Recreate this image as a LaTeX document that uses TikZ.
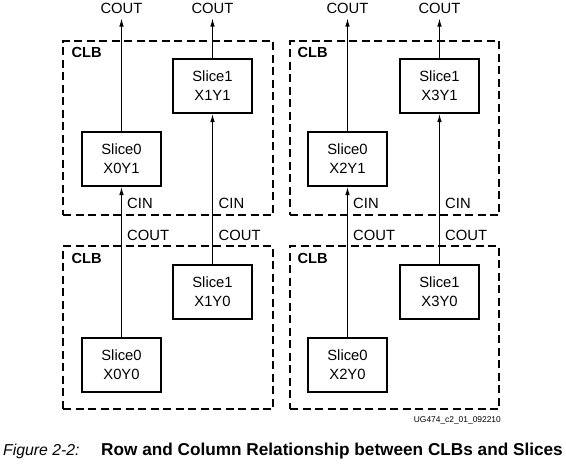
\documentclass[tikz,border=0pt]{standalone}
\usepackage{fontspec}
\setmainfont{Liberation Sans}
\usetikzlibrary{arrows.meta}
\begin{document}
\begin{tikzpicture}[x=1pt,y=-1pt,
  txt/.style={font=\fontsize{14.8}{19}\selectfont,inner sep=0pt},
  slicebox/.style={draw,line width=2pt,minimum width=79pt,minimum height=54pt,
    align=center,inner sep=0pt,font=\fontsize{14.8}{19}\selectfont},
  clbbox/.style={draw,line width=2pt,dash pattern=on 8pt off 4.5pt,inner sep=0pt},
  clblabel/.style={font=\bfseries\fontsize{14.6}{17}\selectfont,inner sep=0pt,anchor=west},
  carry/.style={line width=1pt,-{Latex[length=8pt,width=4.5pt]}},
  sidelabel/.style={txt,anchor=west}
]
\useasboundingbox (0,0) rectangle (566,464);

% CLB outlines
\node[clbbox,minimum width=210pt,minimum height=174pt] (clbTL) at (168,128) {};
\node[clbbox,minimum width=210pt,minimum height=163pt] (clbBL) at (168,327.5) {};
\node[clbbox,minimum width=209pt,minimum height=174pt] (clbTR) at (394.5,128) {};
\node[clbbox,minimum width=209pt,minimum height=163pt] (clbBR) at (394.5,327.5) {};

\node[clblabel] (lTL) at (71.5,52) {CLB};
\node[clblabel] (lBL) at (71.5,258) {CLB};
\node[clblabel] (lTR) at (297.5,52) {CLB};
\node[clblabel] (lBR) at (297.5,258) {CLB};

% slices
\node[slicebox] (s0y1) at (121.5,159) {Slice0\\X0Y1};
\node[slicebox] (s1y1) at (212.5,86) {Slice1\\X1Y1};
\node[slicebox] (s1y0) at (212.5,291.5) {Slice1\\X1Y0};
\node[slicebox] (s0y0) at (121.5,364.5) {Slice0\\X0Y0};

\node[slicebox] (s2y1) at (347.5,159) {Slice0\\X2Y1};
\node[slicebox] (s3y1) at (439.5,86) {Slice1\\X3Y1};
\node[slicebox] (s3y0) at (439.5,291.5) {Slice1\\X3Y0};
\node[slicebox] (s2y0) at (347.5,364.5) {Slice0\\X2Y0};

% carry-out ends at the top
\coordinate (oA) at (121.5,18.5);
\coordinate (oB) at (212.5,18.5);
\coordinate (oC) at (347.5,18.5);
\coordinate (oD) at (439.5,18.5);
\node[txt] (tA) at (121.5,8) {COUT};
\node[txt] (tB) at (212.5,8) {COUT};
\node[txt] (tC) at (347.5,8) {COUT};
\node[txt] (tD) at (439.5,8) {COUT};

% carry chains
\draw[carry] (s0y1.north) -- (oA);
\draw[carry] (s1y1.north) -- (oB);
\draw[carry] (s2y1.north) -- (oC);
\draw[carry] (s3y1.north) -- (oD);
\draw[carry] (s0y0.north) -- (s0y1.south);
\draw[carry] (s1y0.north) -- (s1y1.south);
\draw[carry] (s2y0.north) -- (s2y1.south);
\draw[carry] (s3y0.north) -- (s3y1.south);

% CIN / COUT labels along the chains
\node[sidelabel] (cinA) at (127,203) {CIN};
\node[sidelabel] (cinB) at (218.5,203) {CIN};
\node[sidelabel] (cinC) at (353,203) {CIN};
\node[sidelabel] (cinD) at (445,203) {CIN};
\node[sidelabel] (coA) at (127,235) {COUT};
\node[sidelabel] (coB) at (218.5,235) {COUT};
\node[sidelabel] (coC) at (353,235) {COUT};
\node[sidelabel] (coD) at (445,235) {COUT};

% figure id and caption
\node[font=\fontsize{8.4}{9}\selectfont,inner sep=0pt,anchor=east] (fid) at (501,420) {UG474\_c2\_01\_092210};
\node[font=\itshape\fontsize{15.8}{19}\selectfont,inner sep=0pt,anchor=west] (fnum) at (3,451.5) {Figure 2-2:};
\node[font=\bfseries\fontsize{17.2}{19}\selectfont,inner sep=0pt,anchor=east] (fcap) at (563,451.5) {Row and Column Relationship between CLBs and Slices};
\end{tikzpicture}
\end{document}
